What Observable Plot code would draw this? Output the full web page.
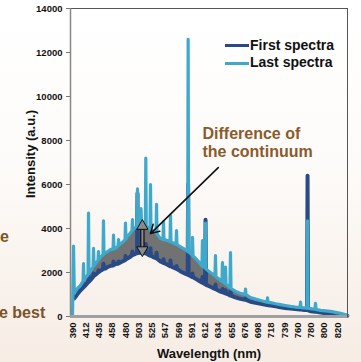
<!DOCTYPE html>
<html><head><meta charset="utf-8">
<script src="https://cdn.jsdelivr.net/npm/d3@7"></script>
<script src="https://cdn.jsdelivr.net/npm/@observablehq/plot@0.6"></script>
<style>
html,body{margin:0;padding:0;}
body{width:361px;height:362px;overflow:hidden;background:linear-gradient(#ffffff 0%,#fdfbf9 45%,#f6ece4 100%);font-family:"Liberation Sans",Arial,sans-serif;}
#wrap{position:relative;width:361px;height:362px;}
.legtxt{position:absolute;left:250px;font-weight:bold;font-size:14px;line-height:14px;color:#111;white-space:nowrap;}
.sw{position:absolute;left:225px;width:24px;height:3px;}
.frag{position:absolute;color:#7b5428;font-weight:bold;font-size:16px;line-height:16px;white-space:nowrap;}
.ylab{position:absolute;left:30px;top:154px;transform:translate(-50%,-50%) rotate(-90deg);font-weight:bold;font-size:13px;line-height:13px;color:#111;white-space:nowrap;}
</style></head><body><div id="wrap"></div>
<script>
// ---- data ----
const wavelength = [390,391.7,393,395,399,403,407.5,408.3,409.1,411.5,416,416.8,417.6,420,424.7,425.5,426.3,429,433.3,434.1,434.9,437.5,442,442.8,443.6,446,450,455,459.3,460.1,460.9,463.5,467.6,468.4,469.2,471.5,476,479.2,480,480.8,484,488.5,491.3,492.1,492.9,497.5,500,500.8,501.6,506,506.8,507.6,511,513.9,514.7,515.5,519,521.7,522.5,523.3,527,531.7,532.5,533.3,536,539,543.3,544.1,544.9,547.5,551.5,554.9,555.7,556.5,560,564.9,565.7,566.5,572,576,580,584.2,585,585.8,588,591.4,592.2,593,597,601,605,607.2,608,608.8,612.1,612.9,613.7,617,621,625,628.6,629.4,630.2,634,637.5,639.9,640.7,641.5,644.7,645.5,646.3,650,652.6,653.4,654.2,661,669,676.5,677.3,678.1,685.5,694,702,711.6,712.4,713.2,717,725,732.5,740,748.5,756,763.4,764.2,765,770,774,774.8,775.6,779,786,786.8,787.6,794.5,802,809.5,817,824.5,830,835];
const lastSpectra = [0,3200,1050,1150,1300,1400,1600,2400,1650,1750,1900,4700,1950,2050,2250,3100,2300,2400,2550,2950,2600,2700,2800,4350,2850,2900,2950,3050,3050,3700,3100,3100,3200,3500,3250,3300,3400,3480,4250,3520,3650,3800,3900,4400,3950,4050,4100,5800,4120,4150,4900,4150,4120,4100,7200,4100,4000,3950,6000,3930,3880,3800,5100,3780,3650,3550,3500,4300,3490,3480,3440,3400,4600,3400,3350,3280,3900,3270,3170,3110,3050,2950,12600,2930,2880,2800,3600,2750,2650,2520,2380,2300,3450,2280,2200,4250,2170,2080,2000,1920,1840,2770,1810,1730,1640,1600,2450,1580,1500,2250,1470,1380,1300,2900,1270,1150,1050,1000,1250,990,860,790,730,650,850,640,630,580,540,500,460,430,410,650,405,390,380,4350,375,360,330,600,325,280,255,230,190,140,100,50];
const firstSpectra = [null,null,820,900,1050,1180,1300,1500,1350,1420,1550,1900,1580,1650,1800,1950,1850,1900,2000,2100,2030,2080,2150,2400,2170,2180,2250,2300,2320,2500,2350,2380,2400,2500,2430,2450,2520,2560,2750,2600,2650,2720,2780,2950,2800,2850,2880,5600,2890,2900,3100,2900,2880,2870,3300,2860,2800,2770,3100,2760,2700,2650,2900,2630,2570,2500,2440,2600,2430,2400,2340,2290,2550,2280,2230,2170,2300,2160,2060,2000,1950,1900,6000,1880,1850,1800,1950,1780,1720,1650,1580,1540,1800,1520,1470,4400,1440,1400,1350,1300,1250,1450,1240,1180,1130,1110,1250,1100,1060,1200,1040,1000,960,1200,950,870,800,760,800,755,670,620,580,520,560,515,500,460,420,390,360,340,320,380,318,300,290,6400,285,240,220,300,215,180,150,130,100,80,50,30];
const seriesNames = ["First spectra","Last spectra"];
const seriesColors = ["#2a4a85","#3fa9cc"];
const xTickLabels = [390,412,435,458,480,503,525,547,569,591,612,634,655,676,698,718,739,760,780,800,820];
const yTicks = [0,2000,4000,6000,8000,10000,12000,14000];
const yLabel = "Intensity (a.u.)";
const xLabel = "Wavelength (nm)";
const noteText = ["Difference of\nthe continuum"];
const noteAt = [{x:608, y:7230}];
const arrowData = [{x1:634, y1:6770, x2:522.5, y2:3770}];
const diffArrow = [{x:509, low:2860, high:4270}];

const rows = wavelength.map((w,i)=>({w, first:firstSpectra[i], last:lastSpectra[i]}));

const W=361,H=362,mL=70,mR=14,mT=8,mB=46;
const step=13.25, x0=72;
const xRange = xTickLabels.map((d,i)=>x0+i*step);

const chart = Plot.plot({
  width:W, height:H, marginLeft:mL, marginRight:mR, marginTop:mT, marginBottom:mB,
  style:{background:"transparent", fontFamily:"Liberation Sans, Arial, sans-serif", overflow:"visible"},
  x:{type:"linear", domain:xTickLabels, range:xRange},
  y:{domain:[0,14000]},
  marks:[
    Plot.areaY(rows,{x:"w", y1:"first", y2:"last", fill:"#727272"}),
    Plot.lineY(rows,{x:"w", y:"first", stroke:seriesColors[0], strokeWidth:4, strokeLinejoin:"round"}),
    Plot.lineY(rows,{x:"w", y:"last", stroke:seriesColors[1], strokeWidth:3.2, strokeLinejoin:"round"}),
    Plot.frame({stroke:"#555", strokeWidth:1}),
    Plot.ruleX([390],{stroke:"#888", strokeWidth:1.5, dx:-2}),
    Plot.ruleY([0],{stroke:"#a0a0a0", strokeWidth:3}),
    Plot.axisY({ticks:yTicks, tickFormat:d=>String(d), tickSize:4, tickPadding:4, fontSize:9.5, fontWeight:"bold", stroke:"#777", fill:"#111", label:null}),
    Plot.axisX({ticks:xTickLabels, tickFormat:d=>String(d), tickSize:0, tickPadding:6, tickRotate:-90, fontSize:9.5, fontWeight:"bold", fill:"#111", label:null}),
    Plot.text([xLabel],{frameAnchor:"bottom", dy:41, lineAnchor:"bottom", fontSize:13, fontWeight:"bold", fill:"#111"}),
    Plot.text(noteAt,{x:"x", y:"y", text:()=>noteText[0], textAnchor:"start", lineAnchor:"bottom", lineHeight:1.15, fontSize:16, fontWeight:"bold", fill:"#8b5a2b"}),
    Plot.arrow(arrowData,{x1:"x1", y1:"y1", x2:"x2", y2:"y2", stroke:"#111", strokeWidth:1.6, headLength:9}),
    Plot.ruleX(diffArrow,{x:"x", y1:d=>d.low+200, y2:d=>d.high-200, stroke:"#111", strokeWidth:4.5}),
    Plot.ruleX(diffArrow,{x:"x", y1:d=>d.low+200, y2:d=>d.high-200, stroke:"#8a8a8a", strokeWidth:2}),
    Plot.dot(diffArrow,{x:"x", y:d=>d.high-160, symbol:"triangle", r:4.2, fill:"#8a8a8a", stroke:"#111", strokeWidth:1}),
    Plot.dot(diffArrow,{x:"x", y:d=>d.low+160, symbol:"triangle", r:4.2, rotate:180, fill:"#8a8a8a", stroke:"#111", strokeWidth:1})
  ]
});
const wrap=document.getElementById("wrap");
wrap.appendChild(chart);

const yl=document.createElement("div"); yl.className="ylab"; yl.textContent=yLabel; wrap.appendChild(yl);

// legend
const legTops=[37.6,55];
const swTops=[44,61.5];
seriesNames.forEach((n,i)=>{
  const s=document.createElement("div"); s.className="sw"; s.style.top=swTops[i]+"px"; s.style.background=seriesColors[i]; wrap.appendChild(s);
  const t=document.createElement("div"); t.className="legtxt"; t.style.top=legTops[i]+"px"; t.textContent=n; wrap.appendChild(t);
});
// cropped slide text fragments at left edge
[["e",228.5,0],["e best",304.5,-1]].forEach(([txt,top,left])=>{
  const d=document.createElement("div"); d.className="frag"; d.style.top=top+"px"; d.style.left=left+"px"; d.textContent=txt; wrap.appendChild(d);
});
</script></body></html>
